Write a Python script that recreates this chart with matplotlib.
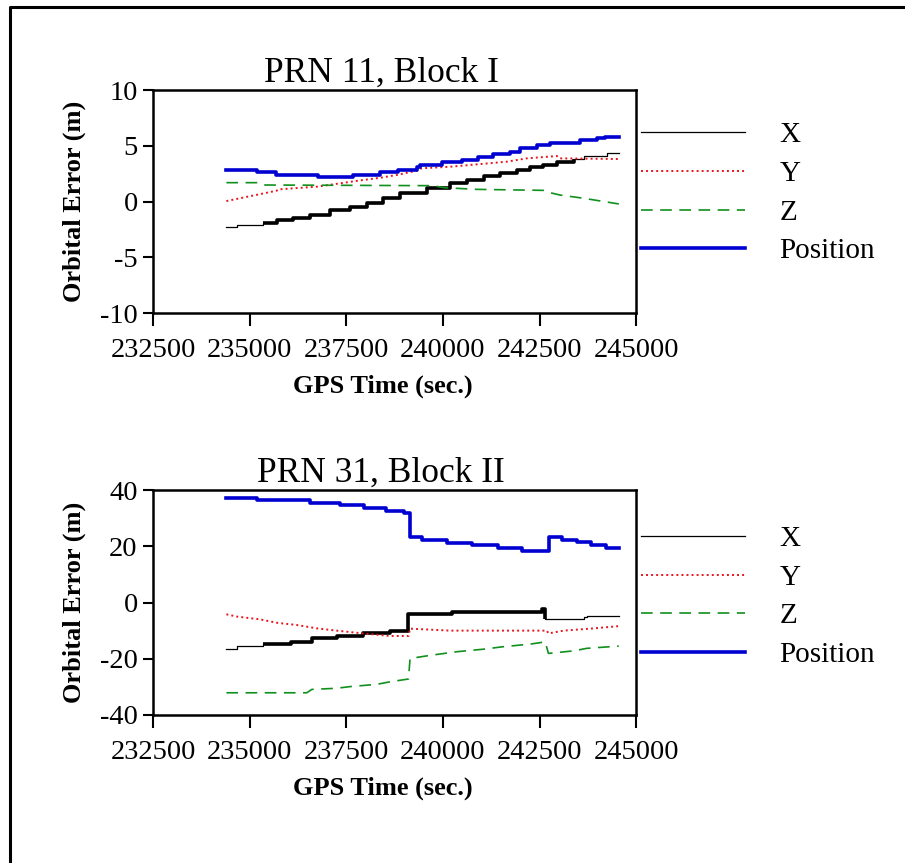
import matplotlib
matplotlib.use("Agg")
import matplotlib.pyplot as plt
from matplotlib.lines import Line2D

plt.rcParams["font.family"] = ["Liberation Serif", "DejaVu Serif"]
plt.rcParams["axes.unicode_minus"] = False

# ---- PRN 11, Block I ----
x1_t = [234400, 234670, 235355, 235700, 236130, 236560, 237080, 237600, 238030, 238460,
        238890, 239580, 240190, 240620, 241050, 241480, 241910, 242260, 242600, 242950,
        243380, 243640, 244240, 244550]
x1_v = [-2.31, -2.10, -1.96, -1.66, -1.45, -1.21, -0.76, -0.46, -0.10, 0.29,
        0.74, 1.18, 1.63, 1.93, 2.29, 2.53, 2.83, 3.12, 3.27, 3.57,
        3.78, 4.08, 4.38, 4.38]
y1_t = [234400, 235700, 235750, 236740, 237340, 237810, 238380, 238810, 239320, 239450,
        240190, 241650, 242170, 242950, 243030, 244550]
y1_v = [0.04, 0.97, 1.09, 1.33, 1.63, 1.87, 2.13, 2.38, 2.76, 2.98,
        3.12, 3.57, 3.87, 4.08, 3.87, 3.81]
z1_t = [234400, 235270, 235400, 239750, 240020, 240880, 242600, 242770, 243030, 243640, 244550]
z1_v = [1.69, 1.69, 1.48, 1.42, 1.24, 1.09, 1.00, 0.79, 0.58, 0.29, -0.22]
p1_t = [234400, 235200, 235680, 236770, 237680, 238370, 238840, 239330, 239420, 239970,
        240490, 240900, 241300, 241740, 242000, 242430, 242770, 243550, 243980, 244200, 244550]
p1_v = [2.85, 2.62, 2.38, 2.17, 2.38, 2.62, 2.85, 3.12, 3.27, 3.52,
        3.75, 4.02, 4.26, 4.47, 4.80, 5.04, 5.27, 5.52, 5.67, 5.76, 5.76]

# ---- PRN 31, Block II ----
x2_t = [234400, 234670, 235355, 236060, 236610, 237250, 237940, 238630, 239110, 240230,
        242560, 242650, 243640, 243720, 244550]
x2_v = [-16.5, -15.5, -14.8, -13.9, -12.7, -11.9, -11.0, -10.0, -4.1, -3.4,
        -2.4, -6.0, -5.0, -4.8, -4.8]
y2_t = [234400, 234670, 235270, 235700, 236220, 236740, 237250, 237940, 238630, 239110,
        239150, 240190, 242690, 242730, 243120, 243900, 244550]
y2_v = [-4.2, -5.0, -6.0, -7.2, -8.0, -9.2, -10.0, -11.0, -11.9, -11.9,
        -9.3, -10.0, -10.0, -11.0, -10.0, -9.2, -8.4]
z2_t = [234400, 236480, 236610, 237250, 237600, 238290, 238630, 239110, 239150, 239670,
        240360, 241050, 241570, 242260, 242645, 242730, 243380, 243720, 244550]
z2_v = [-32.1, -32.1, -30.9, -30.5, -29.9, -29.1, -28.2, -27.2, -19.9, -18.8,
        -17.5, -16.6, -15.7, -14.8, -14.0, -18.1, -17.2, -16.3, -15.5]
p2_t = [234400, 235180, 236560, 237330, 237970, 238530, 239000, 239150, 239450, 240100,
        240750, 241430, 242040, 242750, 243080, 243470, 243820, 244220, 244550]
p2_v = [37.3, 36.3, 35.4, 34.7, 33.6, 32.5, 31.8, 23.2, 22.2, 21.2,
        20.4, 19.4, 18.3, 23.3, 22.2, 21.4, 20.3, 19.3, 19.3]

xticks = [232500, 235000, 237500, 240000, 242500, 245000]
thick_range = (235355, 243400)

panels = [
    ("PRN 11, Block I", x1_t, x1_v, y1_t, y1_v, z1_t, z1_v, p1_t, p1_v,
     (-10, 10), [-10, -5, 0, 5, 10], [0.169, 0.6373, 0.534, 0.2584], 0.537),
    ("PRN 31, Block II", x2_t, x2_v, y2_t, y2_v, z2_t, z2_v, p2_t, p2_v,
     (-40, 40), [-40, -20, 0, 20, 40], [0.169, 0.1715, 0.534, 0.2607], 0.525),
]

fig = plt.figure(figsize=(9.05, 8.63), dpi=100)

for (title, xt, xv, yt, yv, zt, zv, pt, pv, ylim, yticks, rect, leg_y) in panels:
    ax = fig.add_axes(rect)
    ax.plot(xt, xv, color="black", lw=0.9, drawstyle="steps-post", label="X")
    # heavy staircase part of X
    sel = [i for i, t in enumerate(xt) if thick_range[0] <= t <= thick_range[1]]
    ax.plot([xt[i] for i in sel], [xv[i] for i in sel], color="black", lw=2.6,
            drawstyle="steps-post", solid_capstyle="butt")
    ax.plot(yt, yv, color="#e8141c", lw=1.4, linestyle=(0, (1, 1.6)), label="Y")
    ax.plot(zt, zv, color="#10901c", lw=1.2, linestyle=(0, (7, 4.5)), label="Z")
    ax.plot(pt, pv, color="#0000d0", lw=2.6, drawstyle="steps-post", label="Position")

    ax.set_xlim(232500, 245000)
    ax.set_ylim(*ylim)
    ax.set_xticks(xticks)
    ax.set_xticklabels([str(t) for t in xticks])
    ax.set_yticks(yticks)
    ax.tick_params(axis="x", direction="out", length=9, width=1.5, labelsize=20.5, pad=9)
    ax.tick_params(axis="y", direction="out", length=7, width=1.5, labelsize=20.5, pad=4)
    for sp in ax.spines.values():
        sp.set_linewidth(1.8)
    ax.set_title(title, fontsize=25.5, pad=3, x=0.472)
    ax.set_xlabel("GPS Time (sec.)", fontsize=19, fontweight="bold", labelpad=8, x=0.476)
    ax.set_ylabel("Orbital Error (m)", fontsize=19, fontweight="bold", labelpad=10)

    handles = [h for h in ax.get_lines() if not h.get_label().startswith("_")]
    ax.legend(handles=handles, loc="center left", bbox_to_anchor=(1.01, leg_y),
              frameon=False, fontsize=21, handlelength=3.55, handletextpad=1.2,
              labelspacing=0.42, borderpad=0, borderaxespad=0)

# page border (top and left only)
fig.add_artist(Line2D([0.011, 0.011, 1.0], [0.0, 0.9919, 0.9919],
                      transform=fig.transFigure, color="black", lw=2.2))

fig.savefig("out.png", dpi=100)
